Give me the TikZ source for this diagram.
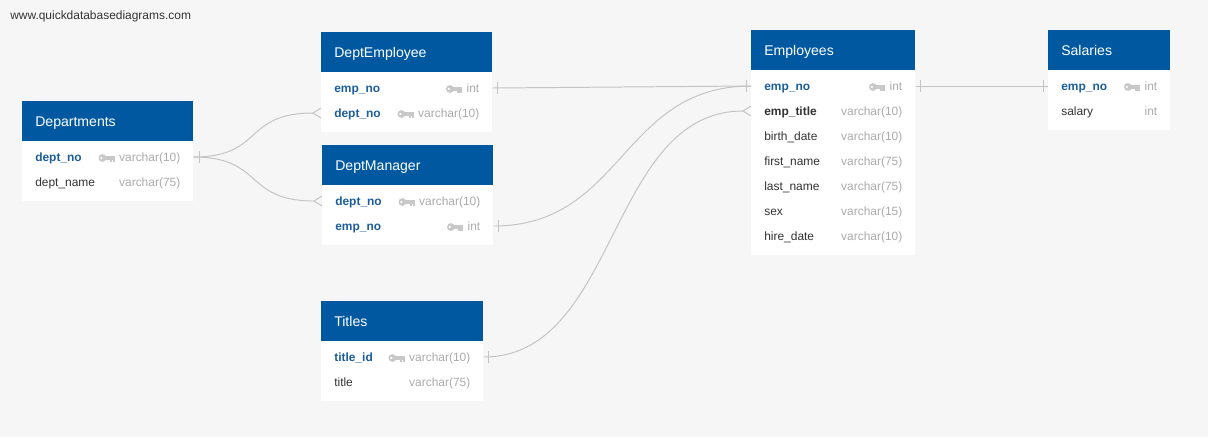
\documentclass[tikz,border=0pt]{standalone}
\usepackage{fontspec}
\setmainfont{Liberation Sans}
\usetikzlibrary{calc}

\definecolor{hdblue}{HTML}{0059A0}
\definecolor{keyblue}{HTML}{1B5E9B}
\definecolor{txtgray}{HTML}{333333}
\definecolor{typegray}{HTML}{ABABAB}
\definecolor{keygray}{HTML}{C8C8C8}
\definecolor{linkgray}{HTML}{C4C4C4}
\definecolor{bggray}{HTML}{F5F6F5}

\newcommand{\px}{0.025cm}

% table: name, x, y (top), width, title, rows, list id/field/type/kind
\newcommand{\dbtable}[7]{%
  \fill[white] (#2,#3) rectangle ++(#4,{40+25*#6+10});
  \node[tblhead, minimum width=#4*\px, anchor=north west] (#1) at (#2,#3) {};
  \node[tbltitle, anchor=west] (#1-title) at ($(#1.west)+(13,1.5)$) {#5};
  \foreach \fid/\fname/\ftype/\fkind [count=\i] in {#7} {
    \pgfmathsetmacro\ry{#3+56+(\i-1)*25}
    \node[tblrow, minimum width=#4*\px, anchor=west] (#1-\fid) at (#2,\ry) {};
    \node[fname \fkind, anchor=west] (#1-\fid-n) at ($(#1-\fid.west)+(13,1)$) {\fname};
    \node[ftype, anchor=east] (#1-\fid-t) at ($(#1-\fid.east)+(-13,1)$) {\ftype};
    \if k\fkind \pic at ($(#1-\fid-t.west)+(-4,0)$) {keyicon}; \fi
  }
}
% relationship ends
\newcommand{\onemark}[2]{\draw[link] ($(#1)+(#2,-6)$) -- ++(0,12);}
\newcommand{\manymark}[1]{\draw[link] ($(#1)+(0,-5)$) -- ($(#1)+(-8,0)$) -- ($(#1)+(0,5)$);}

\tikzset{
  tblhead/.style={fill=hdblue, minimum height=40*\px, inner sep=0},
  tbltitle/.style={text=white, inner sep=0, text height=7.2pt, text depth=2.2pt,
    font=\fontsize{10}{12}\selectfont},
  tblrow/.style={minimum height=25*\px, inner sep=0},
  fname/.style={inner sep=0, text height=6.2pt, text depth=1.8pt,
    font=\fontsize{8.5}{10}\selectfont},
  fname k/.style={fname, text=keyblue, font=\fontsize{8.5}{10}\selectfont\bfseries},
  fname f/.style={fname, text=txtgray, font=\fontsize{8.5}{10}\selectfont\bfseries},
  fname n/.style={fname, text=txtgray},
  ftype/.style={fname, text=typegray},
  link/.style={draw=linkgray, line width=0.7pt},
  keyicon/.pic={
    \fill[keygray] (-12.5,0) circle (3.9);
    \fill[keygray] (-11,-1.7) rectangle (0,1.7);
    \fill[keygray] (-5,0) rectangle (-2.8,3.6);
    \fill[keygray] (-2,0) rectangle (0,3.6);
    \fill[white] (-13.5,0) circle (1.2);
  }
}

\begin{document}
\begin{tikzpicture}[x=\px, y=-\px]
\useasboundingbox (0,0) rectangle (1208,437);
\fill[bggray] (0,0) rectangle (1208,437);
\node[anchor=west, inner sep=0, text=txtgray, font=\fontsize{8.5}{10}\selectfont] (site) at (10,16) {www.quickdatabasediagrams.com};

% tables
\dbtable{dept}{22}{101}{171}{Departments}{2}{deptno/dept\_no/varchar(10)/k, deptname/dept\_name/varchar(75)/n}
\dbtable{demp}{321}{32}{171}{DeptEmployee}{2}{empno/emp\_no/int/k, deptno/dept\_no/varchar(10)/k}
\dbtable{dman}{322}{145}{171}{DeptManager}{2}{deptno/dept\_no/varchar(10)/k, empno/emp\_no/int/k}
\dbtable{ttl}{321}{301}{162}{Titles}{2}{titleid/title\_id/varchar(10)/k, title/title/varchar(75)/n}
\dbtable{emp}{751}{30}{164}{Employees}{7}{empno/emp\_no/int/k, emptitle/emp\_title/varchar(10)/f, birth/birth\_date/varchar(10)/n, first/first\_name/varchar(75)/n, last/last\_name/varchar(75)/n, sex/sex/varchar(15)/n, hire/hire\_date/varchar(10)/n}
\dbtable{sal}{1048}{30}{122}{Salaries}{2}{empno/emp\_no/int/k, salary/salary/int/n}

% relationships
\draw[link] (dept-deptno.east) .. controls +(70,0) and +(-70,0) .. ($(demp-deptno.west)+(-8,0)$);
\draw[link] (dept-deptno.east) .. controls +(70,0) and +(-70,0) .. ($(dman-deptno.west)+(-8,0)$);
\draw[link] (demp-empno.east) -- (emp-empno.west);
\draw[link] (dman-empno.east) .. controls +(130,0) and +(-130,0) .. (emp-empno.west);
\draw[link] (ttl-titleid.east) .. controls +(135,0) and +(-135,0) .. ($(emp-emptitle.west)+(-8,0)$);
\draw[link] (emp-empno.east) -- (sal-empno.west);

\onemark{dept-deptno.east}{6}
\manymark{demp-deptno.west}
\manymark{dman-deptno.west}
\onemark{demp-empno.east}{5}
\onemark{emp-empno.west}{-5}
\onemark{dman-empno.east}{5}
\onemark{ttl-titleid.east}{5}
\manymark{emp-emptitle.west}
\onemark{emp-empno.east}{5}
\onemark{sal-empno.west}{-5}
\end{tikzpicture}
\end{document}
